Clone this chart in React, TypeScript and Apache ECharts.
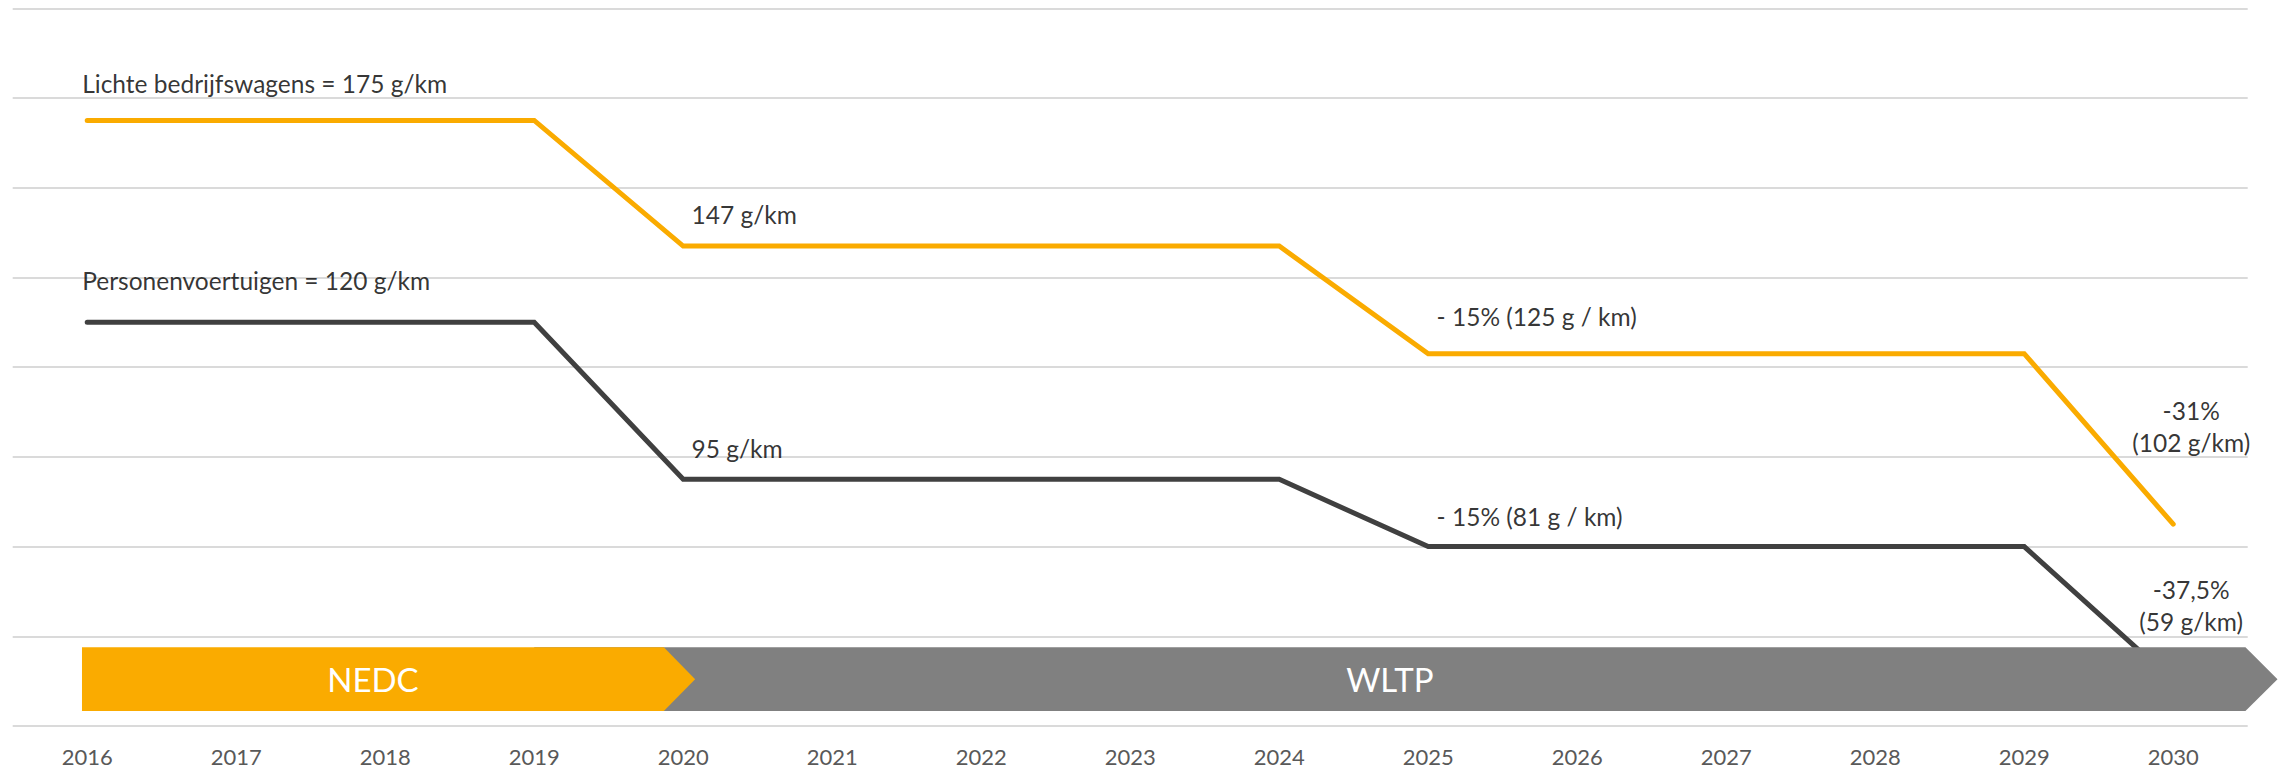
import React, { useEffect, useRef } from "react";
import * as echarts from "echarts";

// ---- Data (schematic chart: y values are drawing levels on a 0..8 grid) ----
const years = ["2016", "2017", "2018", "2019", "2020", "2021", "2022", "2023", "2024", "2025", "2026", "2027", "2028", "2029", "2030"];
const lightCommercial = [6.75, 6.75, 6.75, 6.75, 5.35, 5.35, 5.35, 5.35, 5.35, 4.15, 4.15, 4.15, 4.15, 4.15, 2.25];
const passengerCars = [4.5, 4.5, 4.5, 4.5, 2.75, 2.75, 2.75, 2.75, 2.75, 2.0, 2.0, 2.0, 2.0, 2.0, 0.5];

const annotationTexts = [
  "Lichte bedrijfswagens = 175 g/km",
  "Personenvoertuigen = 120 g/km",
  "147 g/km",
  "95 g/km",
  "- 15% (125 g / km)",
  "- 15% (81 g / km)",
  "-31%\n(102 g/km)",
  "-37,5%\n(59 g/km)",
];
const annotationYears = ["2016", "2016", "2020", "2020", "2025", "2025", "2030", "2030"];
const annotationSeries = ["light", "cars", "light", "cars", "light", "cars", "light", "cars"];

const phaseNames = ["WLTP", "NEDC"];
const phaseStart = ["2019", "2016"];
const phaseEnd = ["2030", "2020"];

const FONT = "Lato";
const ORANGE = "#FAAB00";
const DARK = "#404040";
const GREY = "#808080";

function buildOption() {
  const seriesByName: Record<string, number[]> = { light: lightCommercial, cars: passengerCars };
  const offsets = [
    [-5, -36.5],
    [-5, -41.5],
    [8.4, -32],
    [8.4, -30.5],
    [8.4, -37.5],
    [8.4, -30],
    [18, -98],
    [18, -76],
  ];
  const annData = annotationTexts.map((t, i) => {
    const idx = years.indexOf(annotationYears[i]);
    const v = seriesByName[annotationSeries[i]][idx];
    const multi = t.includes("\n");
    return {
      value: [idx, v],
      label: {
        show: true,
        formatter: t,
        position: "inside",
        align: multi ? "center" : "left",
        verticalAlign: "middle",
        offset: offsets[i],
        fontFamily: FONT,
        fontSize: 24.5,
        lineHeight: 32,
        color: "#000000",
      },
    };
  });

  const phaseData = phaseNames.map((n, i) => [years.indexOf(phaseStart[i]), years.indexOf(phaseEnd[i]), i]);

  return {
    animation: false,
    grid: { left: 12.7, right: 44.3, top: 8.3, bottom: 42, containLabel: false },
    xAxis: {
      type: "category",
      data: years,
      boundaryGap: true,
      axisLine: { show: false },
      axisTick: { show: false },
      splitLine: { show: false },
      axisLabel: { color: "#595959", fontFamily: FONT, fontSize: 22, margin: 19 },
    },
    yAxis: {
      type: "value",
      min: 0,
      max: 8,
      interval: 1,
      axisLine: { show: false },
      axisTick: { show: false },
      axisLabel: { show: false },
      splitLine: { show: true, lineStyle: { color: "#dadada", width: 2 } },
    },
    series: [
      {
        name: "Lichte bedrijfswagens",
        type: "line",
        data: lightCommercial,
        symbol: "none",
        z: 3,
        lineStyle: { color: ORANGE, width: 5, cap: "round", join: "miter" },
      },
      {
        name: "Personenvoertuigen",
        type: "line",
        data: passengerCars,
        symbol: "none",
        z: 3,
        lineStyle: { color: DARK, width: 5, cap: "round", join: "miter" },
      },
      {
        type: "custom",
        z: 5,
        silent: true,
        data: phaseData,
        renderItem: (params: any, api: any) => {
          const s = api.value(0);
          const e = api.value(1);
          const which = phaseNames[api.value(2)];
          const step = api.size([1, 0])[0];
          const xs = api.coord([s, 0])[0];
          const xe = api.coord([e, 0])[0];
          const yTop = api.coord([0, 0.877])[1];
          const yBot = api.coord([0, 0.167])[1];
          const yMid = (yTop + yBot) / 2;
          let left: number, right: number, tip: number, fill: string;
          if (which === "NEDC") {
            left = xs - 0.035 * step;
            right = xe - 0.13 * step;
            tip = xe + 0.08 * step;
            fill = ORANGE;
          } else {
            left = xs;
            right = xe + 0.485 * step;
            tip = xe + 0.7 * step;
            fill = GREY;
          }
          return {
            type: "group",
            children: [
              {
                type: "polygon",
                shape: {
                  points: [
                    [left, yTop],
                    [right, yTop],
                    [tip, yMid],
                    [right, yBot],
                    [left, yBot],
                  ],
                },
                style: { fill },
              },
              {
                type: "text",
                style: {
                  text: which,
                  x: (left + right) / 2,
                  y: yMid,
                  align: "center",
                  verticalAlign: "middle",
                  fill: "#ffffff",
                  fontFamily: FONT,
                  fontSize: 33,
                },
              },
            ],
          };
        },
      },
      {
        type: "scatter",
        z: 6,
        silent: true,
        symbolSize: 1,
        itemStyle: { color: "transparent" },
        data: annData,
      },
    ],
  };
}

export default function App() {
  const ref = useRef<HTMLDivElement>(null);
  useEffect(() => {
    if (!ref.current) return;
    const chart = echarts.init(ref.current, undefined, { renderer: "svg" });
    chart.setOption(buildOption() as any);
    return () => chart.dispose();
  }, []);
  return (
    <div
      ref={ref}
      style={{ position: "absolute", left: 0, top: 0, width: 2292, height: 768, background: "#ffffff" }}
    />
  );
}
